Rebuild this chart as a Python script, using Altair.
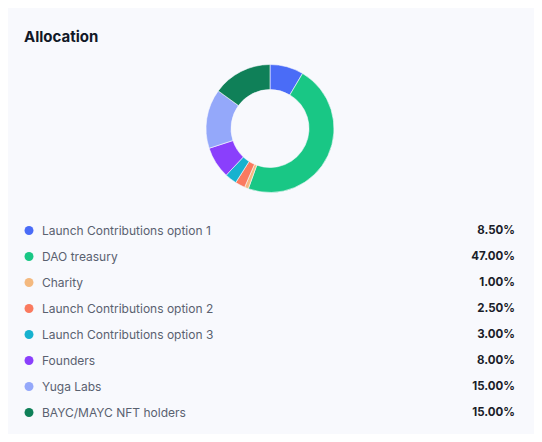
import altair as alt
import pandas as pd

categories = [
    "Launch Contributions option 1",
    "DAO treasury",
    "Charity",
    "Launch Contributions option 2",
    "Launch Contributions option 3",
    "Founders",
    "Yuga Labs",
    "BAYC/MAYC NFT holders",
]
values = [8.5, 47.0, 1.0, 2.5, 3.0, 8.0, 15.0, 15.0]
colors = ["#4a6cf7", "#19c785", "#f4b97f", "#fa7a5f", "#17b2cf", "#8a3ffc", "#94a8fa", "#0f8058"]

df = pd.DataFrame({
    "category": categories,
    "value": values,
    "idx": list(range(len(categories))),
    "pct": [f"{v:.2f}%" for v in values],
})

BG = "#f8f9fd"
color_scale = alt.Scale(domain=categories, range=colors)
y_scale = alt.Scale(type="point", domain=categories, range=[172.5, 354.5], padding=0)

base = alt.Chart(df)

donut = base.mark_arc(innerRadius=39, outerRadius=64, stroke=BG, strokeWidth=0.6).encode(
    theta=alt.Theta("value:Q", stack=True),
    color=alt.Color("category:N", scale=color_scale, legend=None),
    order=alt.Order("idx:Q"),
    x=alt.value(262),
    y=alt.value(70.5),
)

dots = base.mark_circle(size=80, opacity=1).encode(
    y=alt.Y("category:N", scale=y_scale, axis=None),
    x=alt.value(21),
    color=alt.Color("category:N", scale=color_scale, legend=None),
)

labels = base.mark_text(align="left", baseline="middle", font="Inter", fontSize=12, color="#5a6170").encode(
    y=alt.Y("category:N", scale=y_scale, axis=None),
    x=alt.value(34),
    text="category:N",
)

pcts = base.mark_text(align="right", baseline="middle", font="Inter", fontSize=11.5, fontWeight=700, color="#1a1d29").encode(
    y=alt.Y("category:N", scale=y_scale, axis=None),
    x=alt.value(507),
    text="pct:N",
)

chart = alt.layer(donut, dots, labels, pcts).properties(
    width=526,
    height=376,
    padding={"left": 0, "top": 50, "right": 0, "bottom": 0},
    autosize=alt.AutoSizeParams(type="none"),
    background=BG,
    title=alt.TitleParams(
        "Allocation", anchor="start", dx=16, dy=15, offset=16, font="Inter",
        fontSize=15, fontWeight=700, color="#111827", baseline="alphabetic",
    ),
).configure_view(stroke=None)

chart.save("out.html", embed_options={"renderer": "svg", "actions": False})
